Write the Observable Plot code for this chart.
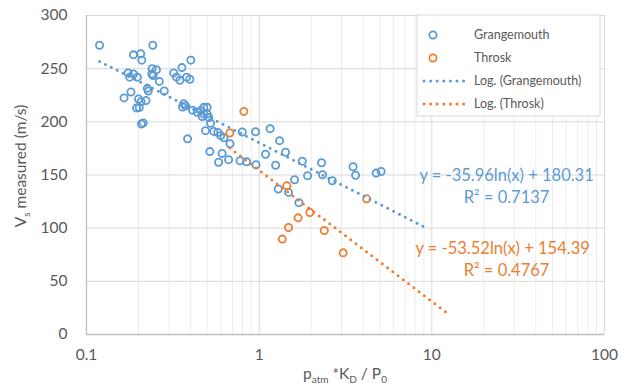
<!DOCTYPE html>
<html>
<head>
<meta charset="utf-8">
<script src="https://cdn.jsdelivr.net/npm/d3@7"></script>
<script src="https://cdn.jsdelivr.net/npm/@observablehq/plot@0.6"></script>
<style>
  body { margin: 0; background: #fff; }
  #chart svg { display: block; }
</style>
</head>
<body>
<div id="chart"></div>
<script>
// Grangemouth measurements: normalised pressure ratio vs measured shear-wave velocity
const grangeX = [0.119, 0.242, 0.187, 0.206, 0.209, 0.402, 0.174, 0.187, 0.178, 0.197,
  0.240, 0.254, 0.239, 0.243, 0.264, 0.320, 0.357, 0.332, 0.347, 0.380,
  0.397, 0.225, 0.228, 0.282, 0.181, 0.165, 0.200, 0.207, 0.221, 0.195,
  0.202, 0.366, 0.360, 0.411, 0.208, 0.213, 0.385, 0.375, 0.438, 0.458,
  0.478, 0.500, 0.478, 0.500, 0.468, 0.511, 0.523, 0.489, 0.546, 0.576,
  0.598, 0.625, 0.798, 0.953, 1.157, 0.678, 0.518, 0.610, 0.582, 0.665,
  0.775, 0.845, 0.959, 1.089, 1.313, 1.422, 1.245, 1.777, 2.298, 1.604,
  1.290, 1.480, 1.698, 1.907, 2.329, 2.652, 3.499, 3.618, 4.757, 5.085];
const grangeY = [272, 272, 263, 264, 258, 258, 246, 245, 242, 242,
  250, 249, 245, 243.5, 238, 246, 251, 242, 239, 242,
  240, 231.5, 229, 229, 228, 222.5, 221.5, 219, 220, 213,
  213.5, 217, 214, 211, 198, 199, 184, 215, 209, 210.5,
  213.6, 213.6, 207.4, 207.4, 205, 204, 198.6, 191.7, 191, 190,
  187, 185, 190.4, 190.7, 193.6, 179.4, 172, 170.3, 162, 164.4,
  163.4, 162.5, 159.6, 169.5, 182.3, 171.4, 159.2, 163, 161.5, 145.5,
  136.8, 133.6, 124, 149.3, 150.2, 144.6, 157.8, 149.8, 151.8, 153.3];

// Throsk measurements
const throskX = [0.676, 0.815, 1.447, 1.966, 1.680, 1.480, 1.361, 2.383, 3.063, 4.191];
const throskY = [189.5, 209.8, 139.9, 114.7, 109.7, 100.6, 89.7, 97.8, 76.8, 127.6];

// Logarithmic trendlines y = a ln(x) + b
const seriesNames = ["Grangemouth", "Throsk"];
const trendNames = ["Log. (Grangemouth)", "Log. (Throsk)"];
const trendSlope = [-35.96, -53.52];
const trendIntercept = [180.31, 154.39];
const trendR2 = ["0.7137", "0.4767"];
const trendFrom = [0.119, 0.676];
const trendTo = [9.3, 12.5];

const xTicks = [0.1, 1, 10, 100];
const yTicks = [0, 50, 100, 150, 200, 250, 300];

const colors = ["#5B9BD5", "#ED7D31"];
const textColor = "#595959";
const font = "Lato, 'Open Sans', sans-serif";

const grange = grangeX.map((x, i) => ({x, y: grangeY[i]}));
const throsk = throskX.map((x, i) => ({x, y: throskY[i]}));

// y = a ln x + b is straight on a log-x axis, so the two end points define it
const trend = [];
trendSlope.forEach((a, i) => {
  [trendFrom[i], trendTo[i]].forEach(x => {
    trend.push({series: trendNames[i], x, y: a * Math.log(x) + trendIntercept[i], c: colors[i]});
  });
});

// light minor gridlines at 2..9 within each decade
const minor = [];
for (const d of [0.1, 1, 10]) for (let k = 2; k <= 9; k++) minor.push(+(d * k).toPrecision(3));

const eqText = trendSlope.map((a, i) => `y = ${a.toFixed(2)}ln(x) + ${trendIntercept[i].toFixed(2)}`);
const r2Text = trendR2.map(r => `R² = ${r}`);
const eqX = [27.1, 25.7];
const eqY = [149.3, 80.5];
const r2X = [27.1, 27.1];
const r2Y = [128.6, 59.8];
const eqLabels = [0, 1].flatMap(i => [
  {x: eqX[i], y: eqY[i], t: eqText[i], c: colors[i]},
  {x: r2X[i], y: r2Y[i], t: r2Text[i], c: colors[i]}
]);

const plot = Plot.plot({
  width: 626,
  height: 387,
  marginLeft: 86,
  marginRight: 22,
  marginTop: 15,
  marginBottom: 53,
  x: {type: "log", domain: [0.1, 100]},
  y: {domain: [0, 300]},
  style: {fontFamily: font, fontSize: "15.5px", color: textColor, background: "#fff"},
  marks: [
    Plot.ruleX(minor, {stroke: "#ededed", strokeWidth: 1}),
    Plot.ruleX([1, 10, 100], {stroke: "#d9d9d9", strokeWidth: 1}),
    Plot.ruleY(yTicks.slice(1), {stroke: "#d9d9d9", strokeWidth: 1}),
    Plot.ruleY([0], {stroke: "#bfbfbf", strokeWidth: 1.3}),
    Plot.ruleX([0.1], {stroke: "#bfbfbf", strokeWidth: 1.3}),
    Plot.axisX({ticks: xTicks, tickSize: 0, tickPadding: 14, tickFormat: d => String(d), label: null, fill: textColor}),
    Plot.axisY({ticks: yTicks, tickSize: 0, tickPadding: 19, label: null, fill: textColor}),
    Plot.dot(grange, {x: "x", y: "y", r: 3.6, stroke: colors[0], strokeWidth: 1.8, fill: "none"}),
    Plot.dot(throsk, {x: "x", y: "y", r: 3.6, stroke: colors[1], strokeWidth: 1.8, fill: "none"}),
    Plot.line(trend, {x: "x", y: "y", z: "series", stroke: "c", strokeWidth: 3,
      strokeDasharray: "0 6.6", strokeLinecap: "round"}),
    Plot.text(eqLabels, {x: "x", y: "y", text: "t", fill: "c", fontSize: 16.5, textAnchor: "middle"})
  ]
});

document.getElementById("chart").appendChild(plot);

// Axis titles with subscripts, and the legend box
const svg = d3.select(plot);

const yTitle = svg.append("text")
  .attr("transform", "translate(26,166) rotate(-90)")
  .attr("text-anchor", "middle")
  .attr("fill", textColor)
  .style("font-family", font)
  .style("font-size", "15.5px");
yTitle.append("tspan").text("V");
yTitle.append("tspan").attr("dy", 4).style("font-size", "10px").text("s");
yTitle.append("tspan").attr("dy", -4).text(" measured (m/s)");

const xTitle = svg.append("text")
  .attr("x", 345).attr("y", 379)
  .attr("text-anchor", "middle")
  .attr("fill", textColor)
  .style("font-family", font)
  .style("font-size", "15.5px");
xTitle.append("tspan").text("p");
xTitle.append("tspan").attr("dy", 4).style("font-size", "10px").text("atm");
xTitle.append("tspan").attr("dy", -4).text(" *K");
xTitle.append("tspan").attr("dy", 4).style("font-size", "10px").text("D");
xTitle.append("tspan").attr("dy", -4).text(" / P");
xTitle.append("tspan").attr("dy", 4).style("font-size", "10px").text("0");

const lg = svg.append("g").style("font-family", font).style("font-size", "12.5px")
  .attr("text-anchor", "start");
lg.append("rect").attr("x", 417).attr("y", 15).attr("width", 183).attr("height", 101)
  .attr("fill", "#fff").attr("stroke", "#d9d9d9");
const rowY = [35, 58, 81, 104];
seriesNames.forEach((name, i) => {
  lg.append("circle").attr("cx", 433).attr("cy", rowY[i]).attr("r", 3.6)
    .attr("fill", "none").attr("stroke", colors[i]).attr("stroke-width", 1.8);
  lg.append("text").attr("x", 474).attr("y", rowY[i]).attr("dy", "0.35em")
    .attr("text-anchor", "start").attr("fill", textColor).text(name);
});
trendNames.forEach((name, i) => {
  lg.append("line").attr("x1", 424).attr("x2", 467).attr("y1", rowY[i + 2]).attr("y2", rowY[i + 2])
    .attr("stroke", colors[i]).attr("stroke-width", 3)
    .attr("stroke-dasharray", "0 6.6").attr("stroke-linecap", "round");
  lg.append("text").attr("x", 474).attr("y", rowY[i + 2]).attr("dy", "0.35em")
    .attr("text-anchor", "start").attr("fill", textColor).text(name);
});
</script>
</body>
</html>
